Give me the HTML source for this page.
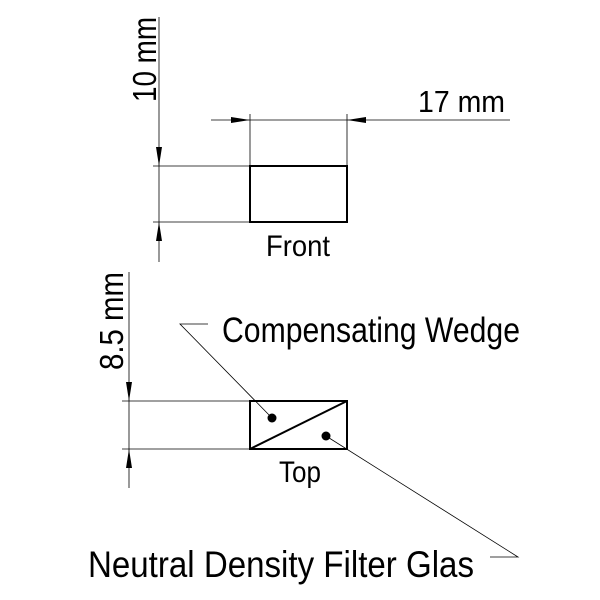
<!DOCTYPE html>
<html><head><style>body{margin:0;background:#fff}svg{display:block}text{font-family:"Liberation Sans",sans-serif;fill:#000;font-weight:normal}</style></head>
<body>
<svg width="600" height="600" viewBox="0 0 600 600">
<g stroke="#000" stroke-width="0.8" fill="none">
<line x1="159" y1="17" x2="159" y2="262"/>
<line x1="153" y1="166" x2="250" y2="166"/>
<line x1="153" y1="222" x2="250" y2="222"/>
<line x1="211" y1="120" x2="510" y2="120"/>
<line x1="250" y1="114" x2="250" y2="166"/>
<line x1="347" y1="114" x2="347" y2="166"/>
<line x1="129" y1="272" x2="129" y2="488"/>
<line x1="122" y1="401" x2="250" y2="401"/>
<line x1="122" y1="449" x2="250" y2="449"/>
<polyline points="208,324 180,324 272,418"/>
<polyline points="326,436 518,557 490,557"/>
</g>
<g fill="#000">
<polygon points="159,166 156,147 162,147"/>
<polygon points="159,222 156,241 162,241"/>
<polygon points="250,120 231,117 231,123"/>
<polygon points="347,120 366,117 366,123"/>
<polygon points="129,401 126,382 132,382"/>
<polygon points="129,449 126,468 132,468"/>
<circle cx="272" cy="418" r="4.5"/>
<circle cx="326" cy="436" r="4.5"/>
</g>
<g stroke="#000" stroke-width="2" fill="none">
<rect x="250" y="166" width="97" height="56"/>
<rect x="250" y="401" width="97" height="48"/>
<line x1="250" y1="449" x2="347" y2="401"/>
</g>
<text x="418" y="112" font-size="31" textLength="87" lengthAdjust="spacingAndGlyphs">17 mm</text>
<text x="266" y="256" font-size="30" textLength="64" lengthAdjust="spacingAndGlyphs">Front</text>
<text x="279" y="482" font-size="30" textLength="42" lengthAdjust="spacingAndGlyphs">Top</text>
<text x="222" y="342" font-size="35" textLength="298" lengthAdjust="spacingAndGlyphs">Compensating Wedge</text>
<text x="88" y="577" font-size="37" textLength="386" lengthAdjust="spacingAndGlyphs">Neutral Density Filter Glas</text>
<text transform="translate(156,102) rotate(-90)" font-size="33" textLength="85" lengthAdjust="spacingAndGlyphs">10 mm</text>
<text transform="translate(123,370) rotate(-90)" font-size="33" textLength="98" lengthAdjust="spacingAndGlyphs">8.5 mm</text>
</svg>
</body></html>
